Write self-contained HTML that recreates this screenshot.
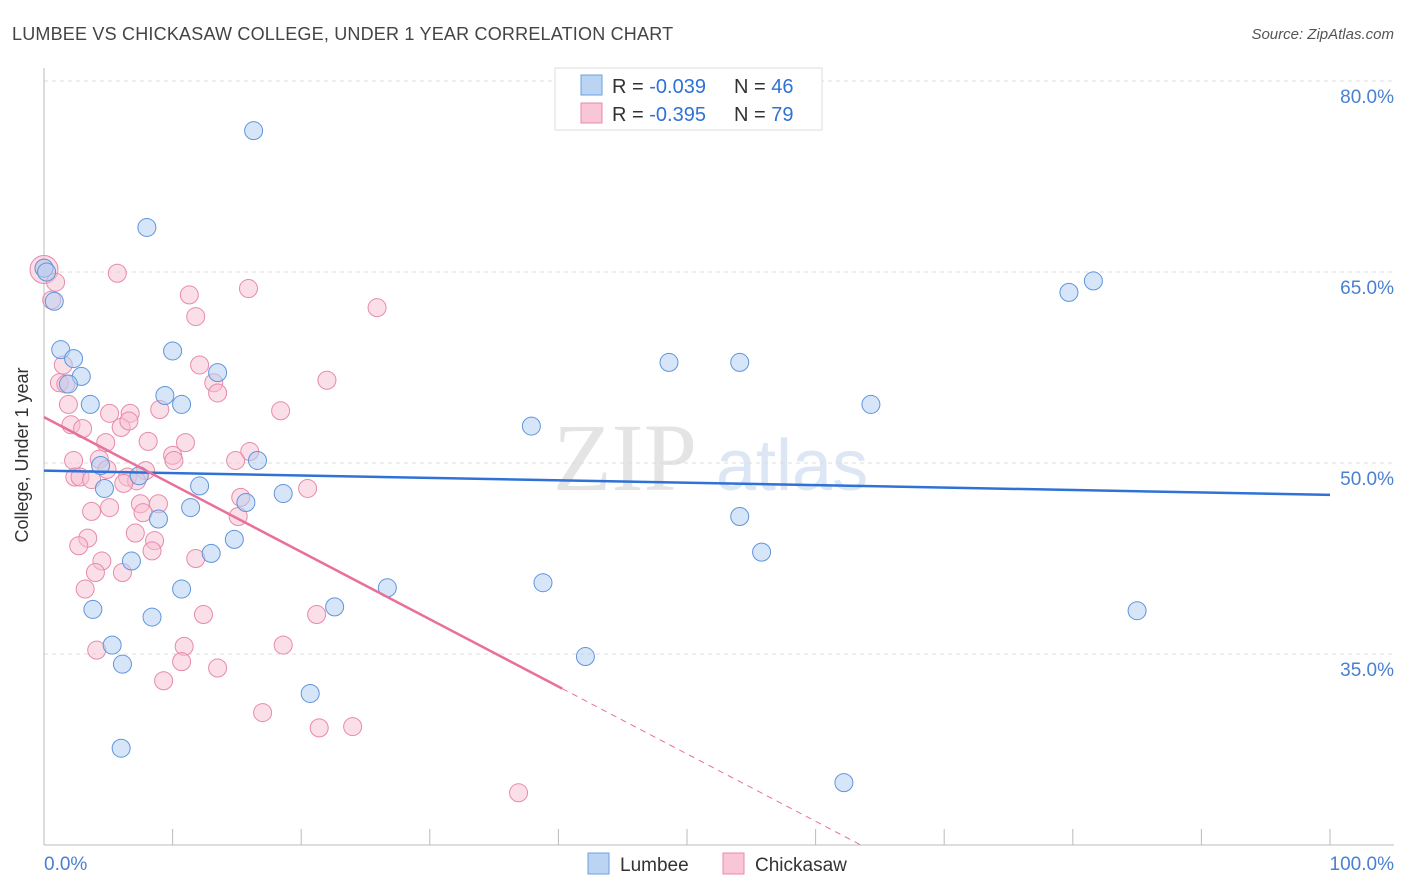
<!DOCTYPE html>
<html><head><meta charset="utf-8"><style>
body{margin:0;background:#fff;font-family:"Liberation Sans",sans-serif;}
svg{display:block}
</style></head><body>
<svg width="1406" height="892">
<text x="12" y="40" font-size="18" fill="#444" letter-spacing="0.2">LUMBEE VS CHICKASAW COLLEGE, UNDER 1 YEAR CORRELATION CHART</text>
<text x="1394" y="39" font-size="15" fill="#555" font-style="italic" text-anchor="end">Source: ZipAtlas.com</text>
<g>
<text x="553" y="490" font-size="96" fill="#e4e4e4" font-family="Liberation Serif">ZIP</text>
<text x="716" y="490" font-size="72" fill="#dce6f4">atlas</text>
</g>
<g id="grid"></g>
<line x1="44" y1="68" x2="44" y2="845" stroke="#bbb"/>
<line x1="44" y1="845" x2="1394" y2="845" stroke="#bbb"/>
<g id="ticks"></g>
<text x="28" y="455" font-size="18" fill="#333" text-anchor="middle" transform="rotate(-90 28 455)">College, Under 1 year</text>
<text x="44" y="870" font-size="19" fill="#4a80d0">0.0%</text>
<text x="1394" y="870" font-size="19" fill="#4a80d0" text-anchor="end">100.0%</text>
<g id="pts"></g>
<g id="lines"></g>
<g>
<rect x="555" y="68" width="267" height="62" fill="#fff" stroke="#ddd"/>
<rect x="581" y="75" width="21" height="20" fill="#bcd4f3" stroke="#6a9fe0"/>
<rect x="581" y="103" width="21" height="20" fill="#f8c6d6" stroke="#e88aa8"/>
<text x="612" y="93" font-size="20" fill="#333">R = <tspan fill="#2f72d6">-0.039</tspan><tspan x="734">N = </tspan><tspan fill="#2f72d6">46</tspan></text>
<text x="612" y="121" font-size="20" fill="#333">R = <tspan fill="#2f72d6">-0.395</tspan><tspan x="734">N = </tspan><tspan fill="#2f72d6">79</tspan></text>
</g>
<g>
<rect x="588" y="853" width="21" height="21" fill="#bcd4f3" stroke="#6a9fe0"/>
<text x="620" y="871" font-size="19" fill="#333">Lumbee</text>
<rect x="723" y="853" width="21" height="21" fill="#f8c6d6" stroke="#e88aa8"/>
<text x="755" y="871" font-size="19" fill="#333">Chickasaw</text>
</g>
</svg>
<script>
const yTicks=[35,50,65,80];
const yTickLabels=["35.0%","50.0%","65.0%","80.0%"];
const xTicks=[0,10,20,30,40,50,60,70,80,90,100];
const lumbeeX=[16.3,8.0,81.6,79.7,0.8,1.3,2.3,10.0,13.5,2.9,1.9,9.4,3.6,10.7,64.3,37.9,48.6,54.1,16.6,4.4,7.4,12.1,18.6,4.7,15.7,11.4,8.9,54.1,14.8,13.0,55.8,6.8,10.7,26.7,38.8,3.8,8.4,22.6,85.0,5.3,42.1,6.1,20.7,6.0,62.2,0,0.2];
const lumbeeY=[76.1,68.5,64.3,63.4,62.7,58.9,58.2,58.8,57.1,56.8,56.2,55.3,54.6,54.6,54.6,52.9,57.9,57.9,50.2,49.8,49.0,48.2,47.6,48.0,46.9,46.5,45.6,45.8,44.0,42.9,43.0,42.3,40.1,40.2,40.6,38.5,37.9,38.7,38.4,35.7,34.8,34.2,31.9,27.6,24.9,65.3,65.0];
const chickX=[0,0.9,0.6,5.7,15.9,11.3,11.8,25.9,1.5,1.2,1.7,12.1,13.2,13.5,22.0,1.9,9.0,5.1,6.7,18.4,2.1,3.0,6.0,6.6,8.1,11.0,4.8,10.0,16.0,14.9,2.3,4.3,10.1,4.9,7.9,2.4,2.8,3.7,6.5,7.2,6.2,20.5,15.3,7.5,8.9,3.7,5.1,7.7,15.1,3.4,8.6,7.1,2.7,8.4,4.5,11.8,4.0,6.1,3.2,12.4,21.2,10.9,18.6,4.1,10.7,13.5,9.3,17.0,21.4,24.0,36.9];
const chickY=[65.3,64.2,62.8,64.9,63.7,63.2,61.5,62.2,57.7,56.3,56.2,57.7,56.3,55.5,56.5,54.6,54.2,53.9,53.9,54.1,53.0,52.7,52.8,53.3,51.7,51.6,51.6,50.6,50.9,50.2,50.2,50.3,50.2,49.5,49.4,48.9,48.9,48.7,48.9,48.6,48.4,48.0,47.3,46.8,46.8,46.2,46.5,46.1,45.8,44.1,43.9,44.5,43.5,43.1,42.3,42.5,41.4,41.4,40.1,38.1,38.1,35.6,35.7,35.3,34.4,33.9,32.9,30.4,29.2,29.3,24.1];
const blueLine=[49.4,47.5];
const pinkLine=[53.6,-0.529];
const NS="http://www.w3.org/2000/svg";
const sx=v=>44+v*12.86;
const sy=v=>463-(v-50)*12.733;
function mk(t,a,p){const e=document.createElementNS(NS,t);for(const k in a)e.setAttribute(k,a[k]);p.appendChild(e);return e;}
const grid=document.getElementById('grid');
yTicks.forEach((t,i)=>{
 const l=mk('line',{x1:44,x2:1394,y1:sy(t),y2:sy(t),stroke:'#ddd','stroke-dasharray':'4,4'},grid);
 
 
 const tx=mk('text',{x:1394,y:sy(t)+22,'font-size':19,fill:'#4a80d0','text-anchor':'end'},grid);
 tx.textContent=yTickLabels[i];
 
 
});
const ticks=document.getElementById('ticks');
xTicks.forEach(t=>{
 const l=mk('line',{x1:sx(t),x2:sx(t),y1:829,y2:845,stroke:'#bbb'},ticks);
 
 
});
const pts=document.getElementById('pts');
const big=mk('circle',{cx:sx(0),cy:sy(65.2),r:14,fill:'#f8c6d6','fill-opacity':0.6,stroke:'#e88aa8'},pts);


chickX.forEach((x,i)=>{
 const c=mk('circle',{cx:sx(x),cy:sy(chickY[i]),r:9,fill:'#f8c0d2','fill-opacity':0.5,stroke:'#e88aa8','stroke-width':1},pts);
 
 
});
lumbeeX.forEach((x,i)=>{
 const c=mk('circle',{cx:sx(x),cy:sy(lumbeeY[i]),r:9,fill:'#b4cff2','fill-opacity':0.55,stroke:'#5f95dd','stroke-width':1},pts);
 
 
});
const lines=document.getElementById('lines');
const bl=mk('line',{x1:sx(0),y1:sy(blueLine[0]),x2:sx(100),y2:sy(blueLine[1]),stroke:'#2f72d6','stroke-width':2.5},lines);


const pf=x=>pinkLine[0]+pinkLine[1]*x;
const pl=mk('line',{x1:sx(0),y1:sy(pf(0)),x2:sx(40.3),y2:sy(pf(40.3)),stroke:'#e8709a','stroke-width':2.5},lines);


const pd=mk('line',{x1:sx(40.3),y1:sy(pf(40.3)),x2:sx(63.5),y2:sy(pf(63.5)),stroke:'#e8709a','stroke-width':1,'stroke-dasharray':'6,5'},lines);


</script>
</body></html>
